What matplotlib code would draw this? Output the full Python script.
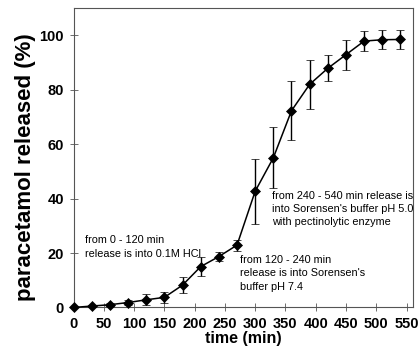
import matplotlib
matplotlib.use("Agg")
import matplotlib.pyplot as plt
from matplotlib import font_manager
from matplotlib.font_manager import FontProperties

time_min = [0, 30, 60, 90, 120, 150, 180, 210, 240, 270, 300, 330, 360, 390, 420, 450, 480, 510, 540]
released = [0, 0.5, 1.0, 1.8, 2.8, 3.7, 8.2, 15.0, 18.7, 22.9, 42.7, 55.0, 72.3, 82.0, 87.9, 92.9, 97.9, 98.4, 98.5]
err = [0, 0.3, 0.5, 1.0, 2.0, 2.0, 3.0, 3.4, 1.5, 2.0, 12.0, 11.2, 10.8, 9.0, 4.8, 5.5, 3.7, 3.5, 3.5]
xticks = [0, 50, 100, 150, 200, 250, 300, 350, 400, 450, 500, 550]
yticks = [0, 20, 40, 60, 80, 100]

names = {f.name for f in font_manager.fontManager.ttflist}
if 'Liberation Sans Narrow' in names:
    ann_fp = FontProperties(family='Liberation Sans Narrow', size=9.0)
    ann_ls = 1.3
else:
    ann_fp = FontProperties(family='Liberation Sans', size=7.85)
    ann_ls = 1.4

plt.rcParams['font.family'] = ['Liberation Sans', 'DejaVu Sans']

fig = plt.figure(figsize=(4.18, 3.55), dpi=100)
ax = fig.add_axes([0.176, 0.134, 0.811, 0.843])

ax.errorbar(time_min, released, yerr=err, fmt='-D', color='black', ms=5.5, lw=1.1,
            elinewidth=1.0, capsize=3, capthick=1.0, markeredgewidth=0.5, clip_on=False, zorder=3)

ax.set_xlim(0, 560)
ax.set_ylim(0, 110)
ax.set_xticks(xticks)
ax.set_yticks(yticks)
ax.tick_params(direction='inout', length=6, width=0.6, color='#555555', labelsize=10.5, pad=4)
for lab in ax.get_xticklabels() + ax.get_yticklabels():
    lab.set_fontweight('bold')
for s in ax.spines.values():
    s.set_color('#555555')
    s.set_linewidth(0.8)

ax.set_xlabel('time (min)', fontsize=11.5, fontweight='bold', labelpad=0)
ax.set_ylabel('paracetamol released (%)', fontsize=16, fontweight='bold')
ax.yaxis.set_label_coords(-0.11, 0.47)

tkw = dict(fontproperties=ann_fp, va='top', ha='left', linespacing=ann_ls)
ax.text(19, 26.5, 'from 0 - 120 min\nrelease is into 0.1M HCl', **tkw)
ax.text(275, 19.2, "from 120 - 240 min\nrelease is into Sorensen's\nbuffer pH 7.4", **tkw)
ax.text(327, 42.8, "from 240 - 540 min release is\ninto Sorensen's buffer pH 5.0\nwith pectinolytic enzyme", **tkw)

fig.savefig('out.png', dpi=100)
